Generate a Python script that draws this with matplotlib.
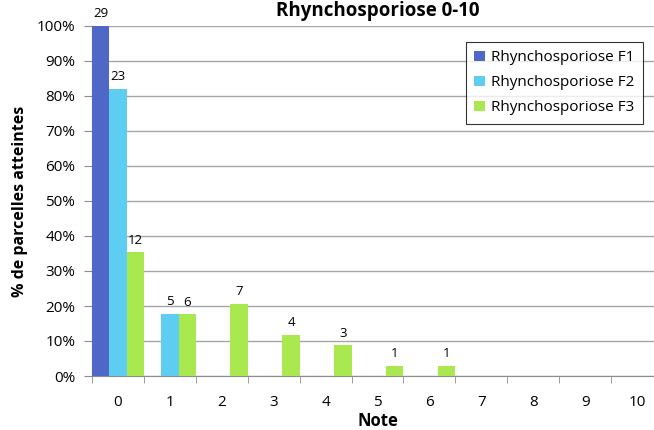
import numpy as np
import matplotlib
matplotlib.use('Agg')
import matplotlib.pyplot as plt

plt.rcParams['font.family'] = ['Open Sans', 'DejaVu Sans']

notes = [str(i) for i in range(11)]
series = ['Rhynchosporiose F1', 'Rhynchosporiose F2', 'Rhynchosporiose F3']
# nombre de parcelles par note
f1 = [29, 0, 0, 0, 0, 0, 0, 0, 0, 0, 0]
f2 = [23, 5, 0, 0, 0, 0, 0, 0, 0, 0, 0]
f3 = [12, 6, 7, 4, 3, 1, 1, 0, 0, 0, 0]
couleurs = ['#4f68c8', '#5dcdf2', '#a9e94f']

fig = plt.figure(figsize=(6.54, 4.30), dpi=100)
W, H = 654, 430
ax = fig.add_axes([92 / W, (H - 376) / H, 571 / W, 350 / H])

x = np.arange(len(notes))
larg = 1 / 3
for k, (nom, cnt, c) in enumerate(zip(series, [f1, f2, f3], couleurs)):
    cnt = np.array(cnt)
    pct = cnt / cnt.sum() * 100
    pos = x + (k - 1) * larg
    ax.bar(pos, pct, larg, color=c, label=nom, zorder=3)
    for p, v, n in zip(pos, pct, cnt):
        if n > 0:
            ax.annotate(str(n), (p, v), xytext=(0, 4), textcoords='offset points',
                        ha='center', va='bottom', fontsize=9.5)

ax.set_xlim(-0.5, 10.5)
ax.set_ylim(0, 100)
ax.set_yticks(np.arange(0, 101, 10))
ax.set_yticklabels([f'{v}%' for v in range(0, 101, 10)])
ax.yaxis.grid(True, color='#a6a6a6', lw=1, zorder=0)
ax.set_xticks(x)
ax.set_xticklabels(notes)
ax.set_xticks(np.arange(-0.5, 11, 1), minor=True)
ax.tick_params(axis='x', which='major', length=0, pad=14, labelsize=11)
ax.tick_params(axis='x', which='minor', length=5, color='#8c8c8c')
ax.tick_params(axis='y', length=6, pad=6, color='#8c8c8c', labelsize=11)
for s in ['top', 'right']:
    ax.spines[s].set_visible(False)
for s in ['left', 'bottom']:
    ax.spines[s].set_color('#8c8c8c')

ax.set_xlabel('Note', fontsize=12, fontweight='bold', labelpad=1)
ax.set_ylabel('% de parcelles atteintes', fontsize=11.5, fontweight='bold', labelpad=6)
fig.text((92 + 663) / 2 / W, 1 - 1 / H, 'Rhynchosporiose 0-10', ha='center', va='top',
         fontsize=13.5, fontweight='bold')

leg = ax.legend(loc='upper right', bbox_to_anchor=(643 / W, 1 - 42 / H),
                bbox_transform=fig.transFigure, fontsize=11, fancybox=False,
                handlelength=0.7, handleheight=0.7, handletextpad=0.4,
                borderaxespad=0, labelspacing=0.65, borderpad=0.55)
leg.get_frame().set_edgecolor('black')
leg.get_frame().set_linewidth(0.8)

fig.savefig('out.png', dpi=100)
